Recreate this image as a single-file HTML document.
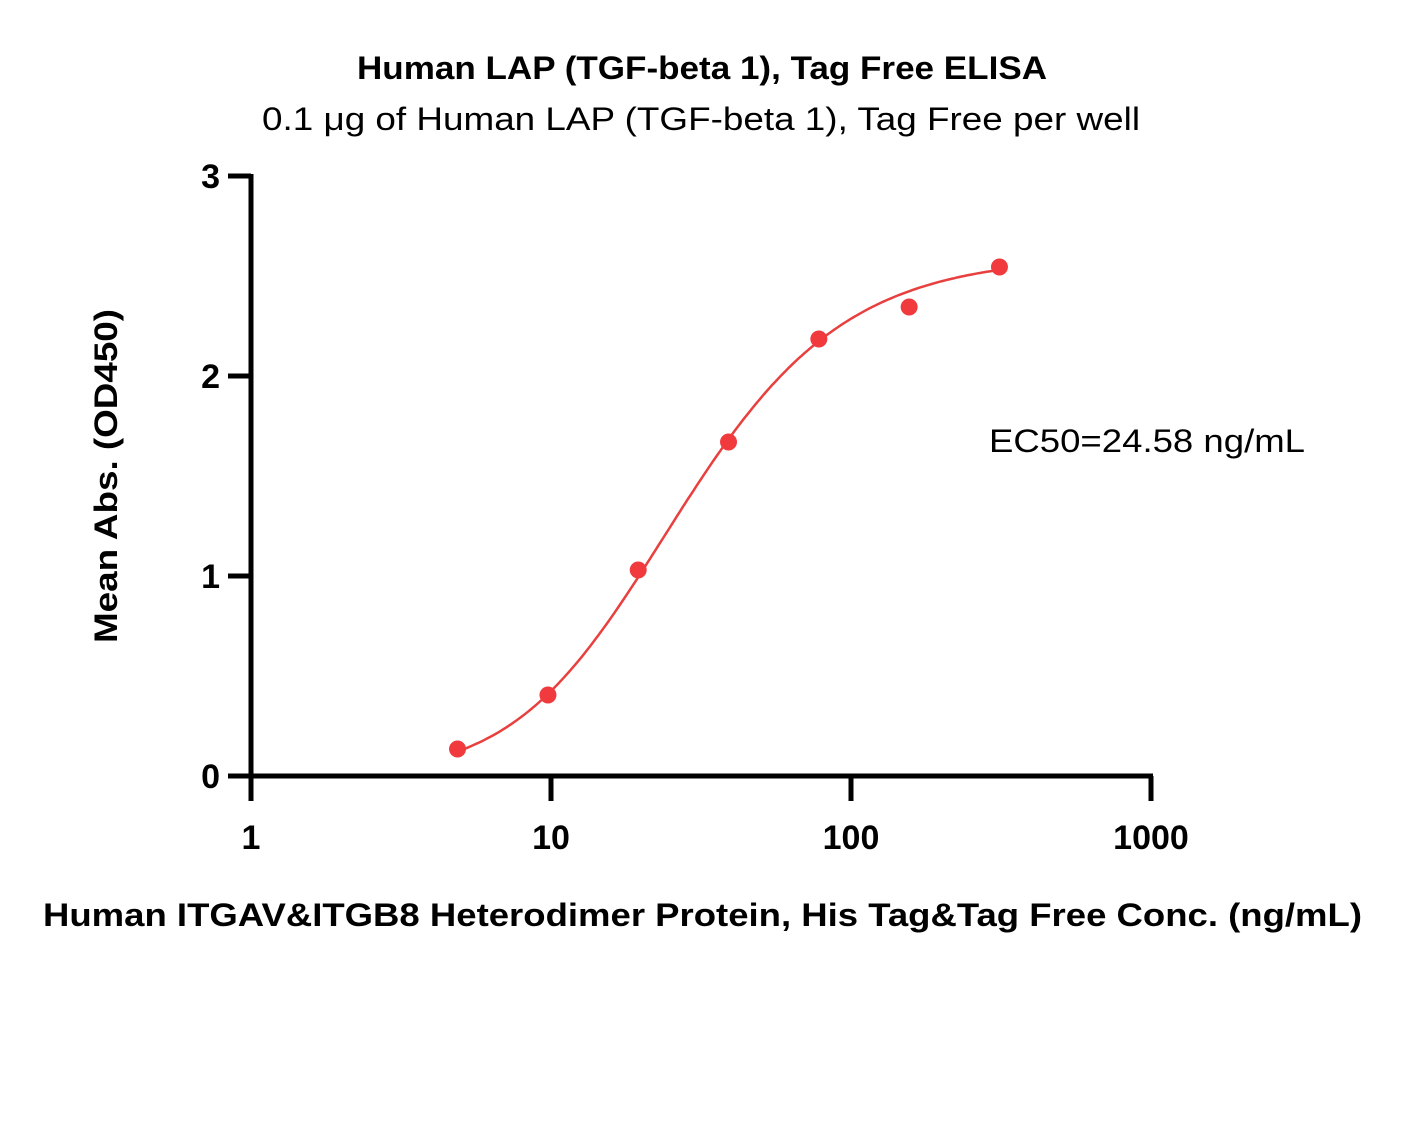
<!DOCTYPE html>
<html><head><meta charset="utf-8"><style>
body{margin:0;background:#fff}
text{font-family:"Liberation Sans",sans-serif}
</style></head><body>
<svg id="chart" width="1407" height="1134" viewBox="0 0 1407 1134" xmlns="http://www.w3.org/2000/svg">
<text x="357" y="79" textLength="690" lengthAdjust="spacingAndGlyphs" font-size="32" font-weight="bold">Human LAP (TGF-beta 1), Tag Free ELISA</text>
<text x="262" y="130" textLength="878" lengthAdjust="spacingAndGlyphs" font-size="32">0.1 μg of Human LAP (TGF-beta 1), Tag Free per well</text>
<text transform="translate(117,476) rotate(-90)" x="-167" textLength="334" lengthAdjust="spacingAndGlyphs" font-size="32" font-weight="bold">Mean Abs. (OD450)</text>
<text x="43" y="926" textLength="1319" lengthAdjust="spacingAndGlyphs" font-size="32" font-weight="bold">Human ITGAV&amp;ITGB8 Heterodimer Protein, His Tag&amp;Tag Free Conc. (ng/mL)</text>
<text x="989" y="452" textLength="316" lengthAdjust="spacingAndGlyphs" font-size="32">EC50=24.58 ng/mL</text>
<g id="axes"></g>
<g id="series"></g>
</svg>
<script>
const concentrations=[4.88,9.77,19.53,39.06,78.13,156.25,312.5];
const absorbance=[0.135,0.405,1.03,1.67,2.185,2.345,2.545];
const fitParams=[0,2.6,17,1.4,1.6]; // bottom, top, c, hill, asymmetry (5PL)
const yTicks=[0,1,2,3];
const xTicks=[1,10,100,1000];
const NS="http://www.w3.org/2000/svg";
const X0=251,X1=1151,Y0=776,Y1=176;
function xs(v){return X0+(Math.log10(v)-0)/3*(X1-X0);}
function ys(v){return Y0-(v/3)*(Y0-Y1);}
function mk(t,a,p){const e=document.createElementNS(NS,t);for(const k in a)e.setAttribute(k,a[k]);p.appendChild(e);return e;}
const ax=document.getElementById('axes'),se=document.getElementById('series');
let l=mk('line',{x1:X0,y1:Y0,x2:X1+2,y2:Y0,stroke:'#000','stroke-width':5},ax);


l=mk('line',{x1:X0,y1:Y1-2,x2:X0,y2:Y0+25,stroke:'#000','stroke-width':5},ax);


yTicks.forEach(v=>{
 const t=mk('line',{x1:X0-23,y1:ys(v),x2:X0,y2:ys(v),stroke:'#000','stroke-width':5},ax);
 
 
 const tx=mk('text',{x:X0-31,y:ys(v)+12,'text-anchor':'end','font-size':34,'font-weight':'bold'},ax);
 tx.textContent=v;
 
 
});
xTicks.forEach(v=>{
 const t=mk('line',{x1:xs(v),y1:Y0,x2:xs(v),y2:Y0+25,stroke:'#000','stroke-width':5},ax);
 
 
 const tx=mk('text',{x:xs(v),y:Y0+73,'text-anchor':'middle','font-size':34,'font-weight':'bold'},ax);
 tx.textContent=v;
 
 
});
function fit(x){const[b,t,c,h,s]=fitParams;return b+(t-b)/Math.pow(1+Math.pow(c/x,h),s);}
let d='';const lo=Math.log10(concentrations[0]),hi=Math.log10(concentrations[concentrations.length-1]);
for(let i=0;i<=200;i++){const c=Math.pow(10,lo+(hi-lo)*i/200);d+=(i?'L':'M')+xs(c).toFixed(1)+','+ys(fit(c)).toFixed(1);}
const p=mk('path',{d:d,fill:'none',stroke:'#e8403f','stroke-width':2.5},se);


concentrations.forEach((c,i)=>{
 const ci=mk('circle',{cx:xs(c),cy:ys(absorbance[i]),r:8.5,fill:'#f03a3e'},se);
 
 
});
</script>
</body></html>
